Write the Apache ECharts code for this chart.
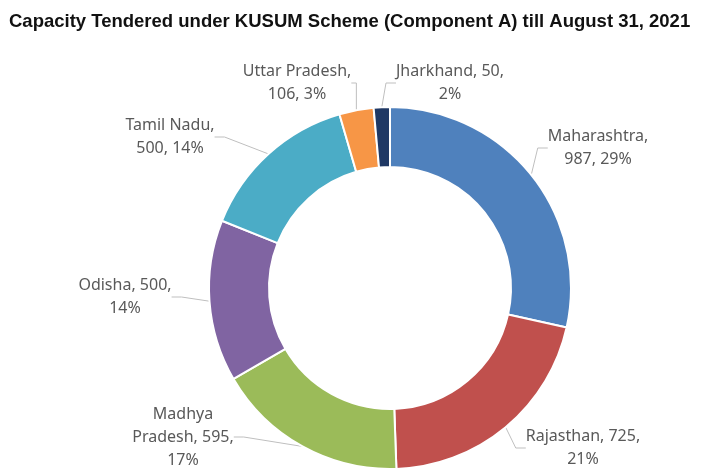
<!DOCTYPE html>
<html>
<head>
<meta charset="utf-8">
<script src="https://cdn.jsdelivr.net/npm/echarts@6/dist/echarts.min.js"></script>
<style>html,body{margin:0;padding:0;background:#fff}#main{width:712px;height:475px}</style>
</head>
<body>
<div id="main"></div>
<script>
var states = ['Maharashtra', 'Rajasthan', 'Madhya Pradesh', 'Odisha', 'Tamil Nadu', 'Uttar Pradesh', 'Jharkhand'];
var capacity = [987, 725, 595, 500, 500, 106, 50];
var shares = ['29%', '21%', '17%', '14%', '14%', '3%', '2%'];
var colors = ['#4f81bd', '#c0504d', '#9bbb59', '#8064a2', '#4bacc6', '#f79646', '#1f3864'];

// label text, broken the way the original wraps it
var labelText = [
    'Maharashtra,\n987, 29%',
    'Rajasthan, 725,\n21%',
    'Madhya\nPradesh, 595,\n17%',
    'Odisha, 500,\n14%',
    'Tamil Nadu,\n500, 14%',
    'Uttar Pradesh,\n106, 3%',
    'Jharkhand, 50,\n2%'
];
var labelPos = [[598, 148], [583, 448], [183, 437], [125, 297], [170, 137], [297, 83], [450, 83]];

var chart = echarts.init(document.getElementById('main'));
chart.setOption({
    animation: false,
    title: {
        text: 'Capacity Tendered under KUSUM Scheme (Component A) till August 31, 2021',
        left: 4, top: 7,
        textStyle: { fontFamily: 'Liberation Sans', fontWeight: 'bold', fontSize: 18.5, color: '#111' }
    },
    series: [{
        type: 'pie',
        center: [390, 288],
        radius: [121, 181],
        startAngle: 90,
        clockwise: true,
        itemStyle: { borderColor: '#fff', borderWidth: 2 },
        data: states.map(function (s, i) {
            return { name: s, value: capacity[i], itemStyle: { color: colors[i] } };
        }),
        label: {
            show: true,
            formatter: function (p) { return labelText[p.dataIndex]; },
            fontFamily: 'Noto Sans', fontSize: 16, color: '#595959', lineHeight: 23, align: 'center'
        },
        labelLine: { show: true, lineStyle: { color: '#bfbfbf', width: 1 }, length: 10, length2: 10 },
        labelLayout: function (p) {
            var pos = labelPos[p.dataIndex];
            return { x: pos[0], y: pos[1], align: 'center', verticalAlign: 'middle' };
        }
    }]
});
</script>
</body>
</html>
